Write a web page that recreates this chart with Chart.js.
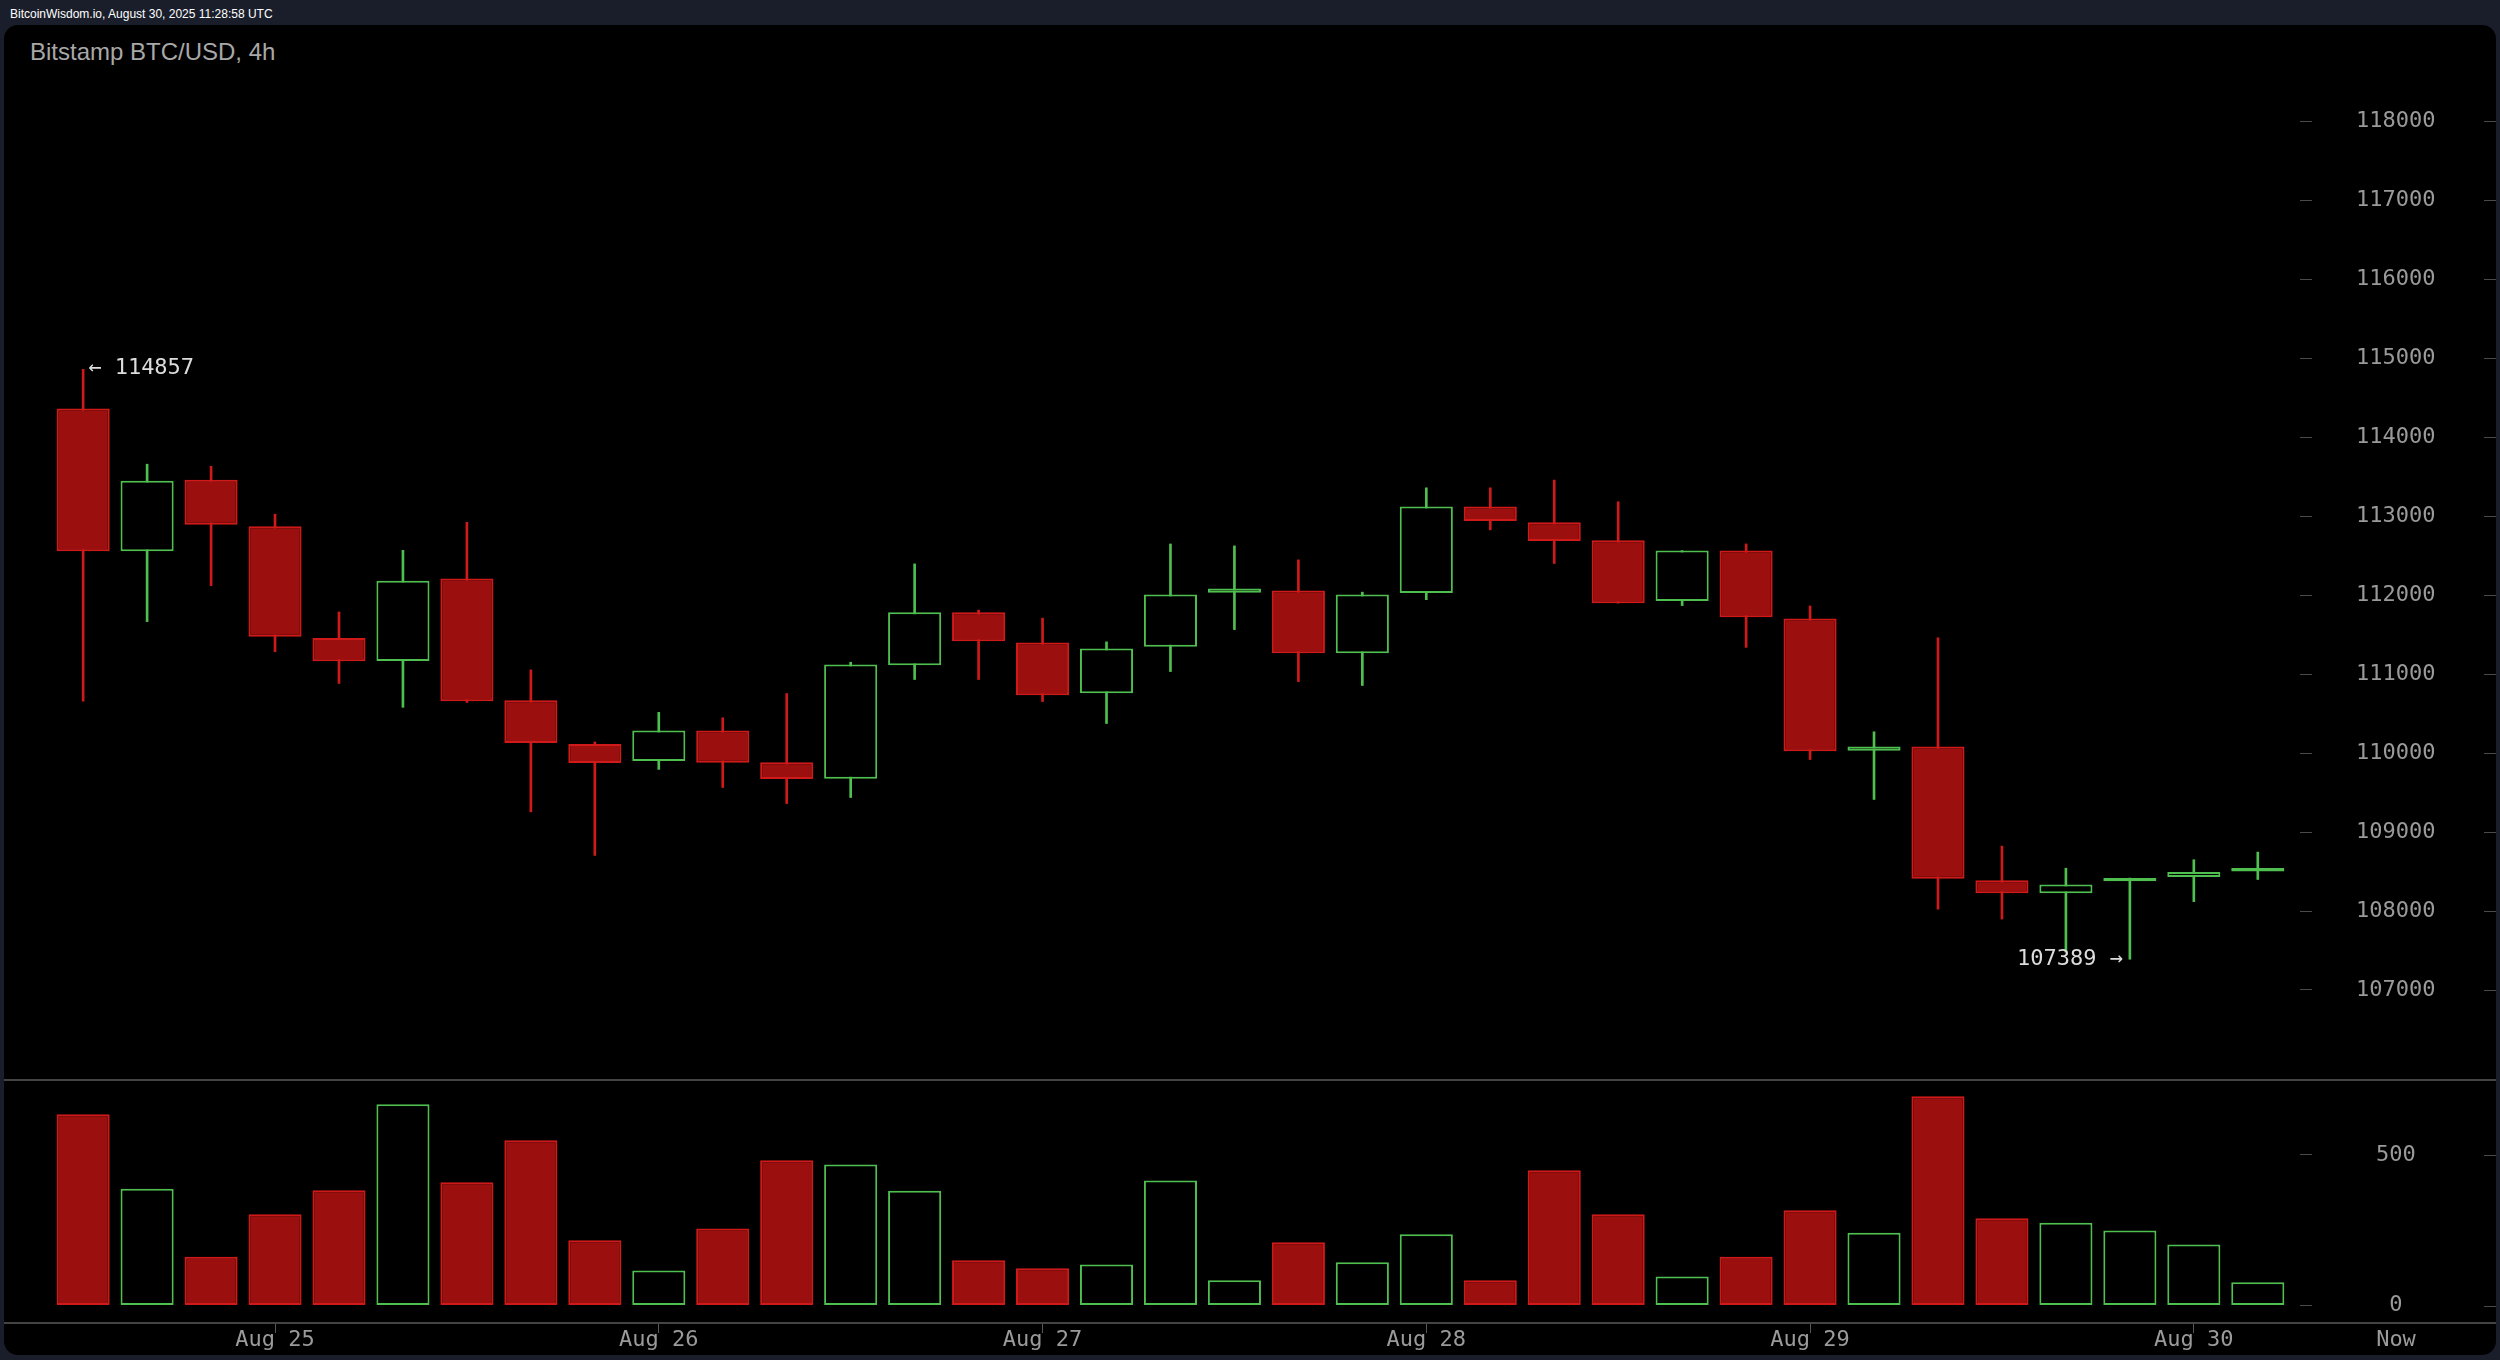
<!DOCTYPE html>
<html>
<head>
<meta charset="utf-8">
<title>Bitstamp BTC/USD, 4h</title>
<script src="https://cdn.jsdelivr.net/npm/chart.js@4.4.1/dist/chart.umd.min.js"></script>
<style>
  html, body { margin: 0; padding: 0; }
  body { width: 2500px; height: 1360px; background: #1a1e2a; position: relative; overflow: hidden; }
  #stamp { position: absolute; left: 10px; top: 8px; font: 12px/12px "Liberation Sans", Arial, sans-serif; color: #fff; }
  #panel { position: absolute; left: 4px; top: 25px; width: 2492px; height: 1330px; background: #000; border-radius: 14px; }
  #title { position: absolute; left: 30px; top: 40px; font: 24px/24px "Liberation Sans", Arial, sans-serif; color: #a8a8a8; }
  canvas { position: absolute; left: 0; }
  #price-chart { top: 25px; }
  #volume-chart { top: 1079px; }
</style>
</head>
<body>
<div id="stamp">BitcoinWisdom.io, August 30, 2025 11:28:58 UTC</div>
<div id="panel"></div>
<div id="title">Bitstamp BTC/USD, 4h</div>
<canvas id="price-chart" width="2500" height="1054"></canvas>
<canvas id="volume-chart" width="2500" height="281"></canvas>
<script>
// 4h candles (UTC)
const candleTimes = [
    'Aug 24 12:00', 'Aug 24 16:00', 'Aug 24 20:00',
    'Aug 25 00:00', 'Aug 25 04:00', 'Aug 25 08:00', 'Aug 25 12:00', 'Aug 25 16:00', 'Aug 25 20:00',
    'Aug 26 00:00', 'Aug 26 04:00', 'Aug 26 08:00', 'Aug 26 12:00', 'Aug 26 16:00', 'Aug 26 20:00',
    'Aug 27 00:00', 'Aug 27 04:00', 'Aug 27 08:00', 'Aug 27 12:00', 'Aug 27 16:00', 'Aug 27 20:00',
    'Aug 28 00:00', 'Aug 28 04:00', 'Aug 28 08:00', 'Aug 28 12:00', 'Aug 28 16:00', 'Aug 28 20:00',
    'Aug 29 00:00', 'Aug 29 04:00', 'Aug 29 08:00', 'Aug 29 12:00', 'Aug 29 16:00', 'Aug 29 20:00',
    'Aug 30 00:00', 'Aug 30 04:00'
];
const openPrices = [
    114362, 112555, 113460, 112871, 111456, 111166, 112210, 110668, 110113, 109900,
    110285, 109885, 109674, 111112, 111784, 111399, 110758, 111345, 112028, 112057,
    111265, 112027, 113123, 112923, 112693, 111924, 112563, 111703, 110028, 110082,
    108390, 108226, 108378, 108430, 108501
];
const highPrices = [
    114857, 113657, 113630, 113024, 111786, 112567, 112921, 111053, 110140, 110515,
    110446, 110754, 111150, 112395, 111809, 111708, 111408, 112647, 112623, 112446,
    112037, 113358, 113358, 113456, 113181, 112563, 112648, 111862, 110269, 111459,
    108822, 108542, 108417, 108649, 108746
];
const lowPrices = [
    110656, 111664, 112120, 111284, 110881, 110579, 110640, 109255, 108703, 109793,
    109564, 109361, 109437, 110931, 110931, 110652, 110374, 111032, 111563, 110905,
    110855, 111942, 112826, 112400, 111898, 111867, 111338, 109918, 109412, 108022,
    107898, 107480, 107389, 108119, 108399
];
const closePrices = [
    112555, 113449, 112889, 111474, 111162, 112183, 110656, 110127, 109874, 110285,
    109876, 109670, 111120, 111784, 111417, 110733, 111323, 112007, 112083, 111265,
    112007, 113123, 112937, 112684, 111898, 112563, 111720, 110024, 110082, 108408,
    108226, 108337, 108417, 108493, 108546
];
const volumes = [
    635, 388, 162, 303, 383, 668, 409, 549, 217, 116,
    256, 482, 468, 381, 150, 124, 136, 415, 84, 210,
    144, 237, 84, 449, 303, 96, 162, 316, 242, 695,
    290, 275, 249, 203, 77
];
const priceTicks = [107000, 108000, 109000, 110000, 111000, 112000, 113000, 114000, 115000, 116000, 117000, 118000];
const volumeTicks = [0, 500];

// day ticks: the candles that open at 00:00
const dayTicks = [];
const dayLabels = [];
candleTimes.forEach((t, i) => {
    if (t.endsWith('00:00')) {
        dayTicks.push(i);
        dayLabels.push(t.slice(0, 6));
    }
});

const RED_FILL = '#9b0f0f';
const RED_LINE = '#d01a1a';
const GREEN = '#4fbf4f';
const AXIS_GREY = '#4a4a4a';
const TEXT_GREY = '#9a9a9a';

const X_MIN = -1.3;
const X_MAX = 34.66;

Chart.defaults.font.family = '"DejaVu Sans Mono", monospace';
Chart.defaults.color = TEXT_GREY;

const isUp = i => closePrices[i] >= openPrices[i];

function fitRightAxis(scale) {
    scale.width = 200;
    scale.paddingTop = 0;
    scale.paddingBottom = 0;
}

// second dash on the far side of the price/volume labels
const rightDash = {
    id: 'rightDash',
    afterDraw(chart) {
        const { ctx } = chart;
        const y = chart.scales.y;
        ctx.save();
        ctx.strokeStyle = AXIS_GREY;
        ctx.lineWidth = 1;
        y.ticks.forEach(t => {
            const py = Math.round(y.getPixelForValue(t.value)) + 0.5;
            ctx.beginPath();
            ctx.moveTo(chart.width - 16, py);
            ctx.lineTo(chart.width - 4, py);
            ctx.stroke();
        });
        ctx.restore();
    }
};

// high / low markers
const extremes = {
    id: 'extremes',
    afterDatasetsDraw(chart) {
        const { ctx } = chart;
        const { x, y } = chart.scales;
        const hi = Math.max(...highPrices);
        const lo = Math.min(...lowPrices);
        const hiIdx = highPrices.indexOf(hi);
        const loIdx = lowPrices.indexOf(lo);
        ctx.save();
        ctx.font = '22px "DejaVu Sans Mono"';
        ctx.fillStyle = '#dcdcdc';
        ctx.textBaseline = 'middle';
        ctx.textAlign = 'left';
        ctx.fillText('\u2190 ' + hi, x.getPixelForValue(hiIdx) + 5, y.getPixelForValue(hi) - 1);
        ctx.textAlign = 'right';
        ctx.fillText(lo + ' \u2192', x.getPixelForValue(loIdx) - 7, y.getPixelForValue(lo));
        ctx.restore();
    }
};

const separators = {
    id: 'separators',
    afterDraw(chart) {
        const { ctx, chartArea } = chart;
        ctx.save();
        ctx.fillStyle = '#444';
        ctx.fillRect(4, 0, chart.width - 8, 2);
        ctx.fillRect(4, chartArea.bottom - 1, chart.width - 8, 2);
        ctx.restore();
    }
};

const nowLabel = {
    id: 'nowLabel',
    afterDraw(chart) {
        const { ctx } = chart;
        const y = chart.scales.y;
        const x = chart.scales.x;
        ctx.save();
        ctx.font = '22px "DejaVu Sans Mono"';
        ctx.fillStyle = TEXT_GREY;
        ctx.textAlign = 'center';
        ctx.textBaseline = 'middle';
        ctx.fillText('Now', y.left + 96, x.top + 17);
        ctx.restore();
    }
};

function initPriceChart() {
    const ctx = document.getElementById('price-chart');
    new Chart(ctx, {
        type: 'bar',
        data: {
            datasets: [{
                label: 'body',
                data: candleTimes.map((t, i) => ({ x: i, y: [openPrices[i], closePrices[i]] })),
                backgroundColor: c => isUp(c.dataIndex) ? '#000' : RED_FILL,
                borderColor: c => isUp(c.dataIndex) ? GREEN : RED_LINE,
                borderWidth: 2,
                borderSkipped: false,
                grouped: false,
                categoryPercentage: 1,
                barPercentage: 0.83
            }, {
                label: 'wick',
                data: candleTimes.map((t, i) => ({ x: i, y: [lowPrices[i], highPrices[i]] })),
                backgroundColor: c => isUp(c.dataIndex) ? GREEN : RED_LINE,
                borderWidth: 0,
                grouped: false,
                maxBarThickness: 2,
                categoryPercentage: 1,
                barPercentage: 1
            }]
        },
        options: {
            responsive: false,
            devicePixelRatio: 1,
            animation: false,
            layout: { padding: 0 },
            plugins: {
                legend: { display: false },
                tooltip: { enabled: false }
            },
            scales: {
                x: {
                    type: 'linear',
                    display: false,
                    offset: false,
                    min: X_MIN,
                    max: X_MAX
                },
                y: {
                    position: 'right',
                    min: 105873,
                    max: 119218,
                    afterBuildTicks: s => { s.ticks = priceTicks.map(v => ({ value: v })); },
                    afterFit: fitRightAxis,
                    grid: { drawOnChartArea: false, drawTicks: true, tickLength: 12, color: AXIS_GREY, lineWidth: 1 },
                    border: { display: false },
                    ticks: {
                        color: TEXT_GREY,
                        font: { size: 22 },
                        padding: 44,
                        crossAlign: 'center',
                        callback: v => String(v)
                    }
                }
            }
        },
        plugins: [rightDash, extremes]
    });
}

function initVolumeChart() {
    const ctx = document.getElementById('volume-chart');
    new Chart(ctx, {
        type: 'bar',
        data: {
            datasets: [{
                label: 'volume',
                data: volumes.map((v, i) => ({ x: i, y: v })),
                backgroundColor: c => isUp(c.dataIndex) ? '#000' : RED_FILL,
                borderColor: c => isUp(c.dataIndex) ? GREEN : RED_LINE,
                borderWidth: 2,
                borderSkipped: false,
                categoryPercentage: 1,
                barPercentage: 0.83
            }]
        },
        options: {
            responsive: false,
            devicePixelRatio: 1,
            animation: false,
            layout: { padding: 0 },
            plugins: {
                legend: { display: false },
                tooltip: { enabled: false }
            },
            scales: {
                x: {
                    type: 'linear',
                    position: 'bottom',
                    offset: false,
                    min: X_MIN,
                    max: X_MAX,
                    afterBuildTicks: s => { s.ticks = dayTicks.map(v => ({ value: v })); },
                    afterFit: s => { s.height = 37; s.paddingLeft = 0; s.paddingRight = 0; },
                    grid: { offset: false, drawOnChartArea: false, drawTicks: true, tickLength: 10, color: '#555', lineWidth: 1 },
                    border: { display: false },
                    ticks: {
                        autoSkip: false,
                        maxRotation: 0,
                        color: TEXT_GREY,
                        font: { size: 22, lineHeight: 1 },
                        padding: -4,
                        callback: (v, i) => dayLabels[i]
                    }
                },
                y: {
                    position: 'right',
                    min: -58,
                    max: 752,
                    afterBuildTicks: s => { s.ticks = volumeTicks.map(v => ({ value: v })); },
                    afterFit: fitRightAxis,
                    grid: { drawOnChartArea: false, drawTicks: true, tickLength: 12, color: AXIS_GREY, lineWidth: 1 },
                    border: { display: false },
                    ticks: {
                        color: TEXT_GREY,
                        font: { size: 22 },
                        padding: 64,
                        crossAlign: 'center',
                        callback: v => String(v)
                    }
                }
            }
        },
        plugins: [rightDash, separators, nowLabel]
    });
}

document.addEventListener('DOMContentLoaded', () => {
    initPriceChart();
    initVolumeChart();
});
</script>
</body>
</html>
